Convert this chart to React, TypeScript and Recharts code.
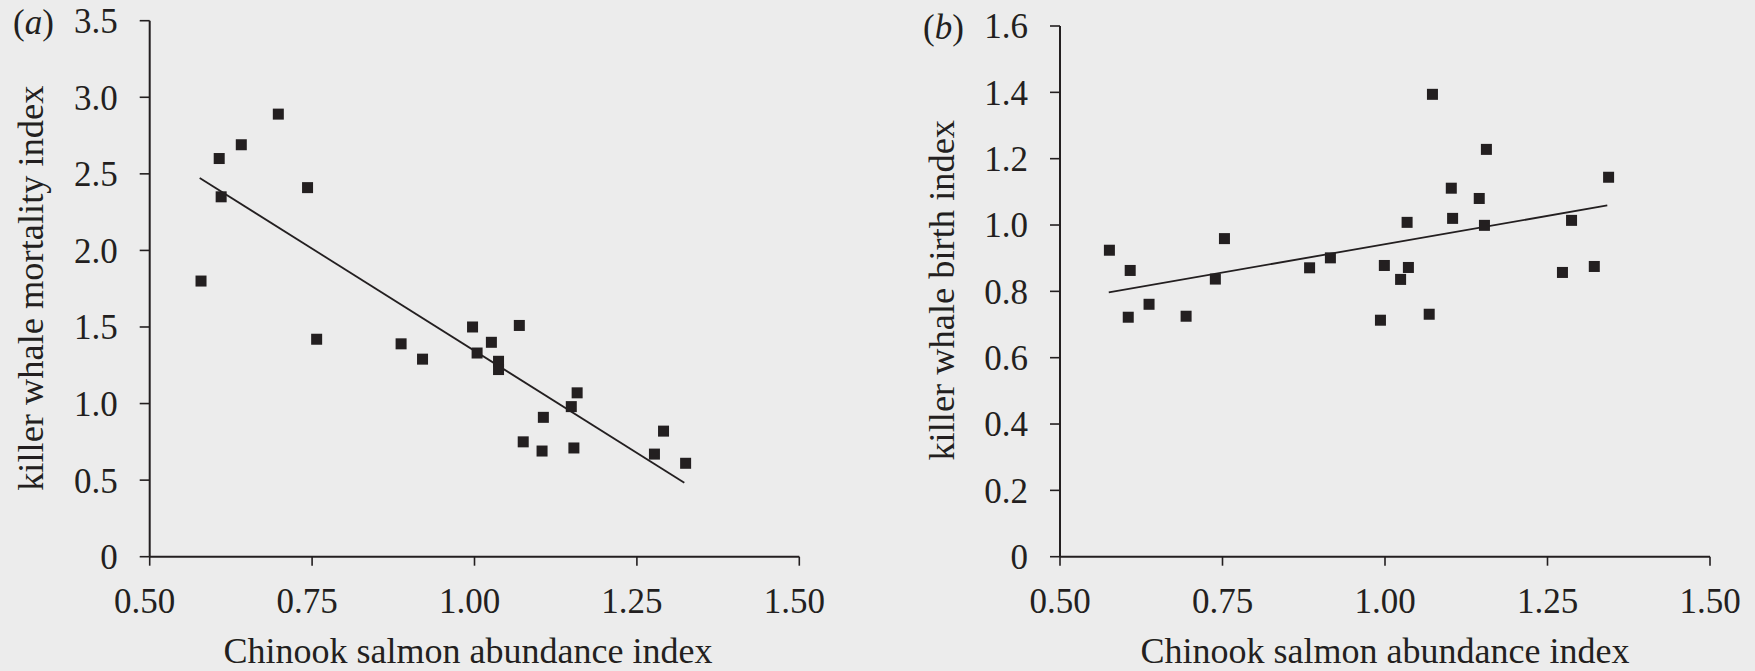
import React from 'react';
import { ScatterChart, Scatter, XAxis, YAxis, ReferenceLine } from 'recharts';

const INK = '#231f20';
const BG = '#ececec';
const FONT = '"Liberation Serif", "Times New Roman", Times, serif';

// shared x axis
const xTicks = [0.5, 0.75, 1.0, 1.25, 1.5];
const xTitle = 'Chinook salmon abundance index';

// panel (a): mortality
const aX = [0.579, 0.607, 0.610, 0.641, 0.698, 0.743, 0.757, 0.887, 0.920, 0.997, 1.069, 1.026, 1.004, 1.037, 1.037, 1.158, 1.149, 1.106, 1.075, 1.104, 1.153, 1.291, 1.277, 1.325];
const aY = [1.80, 2.60, 2.35, 2.69, 2.89, 2.41, 1.42, 1.39, 1.29, 1.50, 1.51, 1.40, 1.33, 1.276, 1.222, 1.07, 0.98, 0.91, 0.75, 0.69, 0.71, 0.82, 0.67, 0.61];
const aTrendX = [0.577, 1.323];
const aTrendY = [2.473, 0.483];
const aYTicks = [0, 0.5, 1.0, 1.5, 2.0, 2.5, 3.0, 3.5];
const aYTitle = 'killer whale mortality index';

// panel (b): birth
const bX = [0.576, 0.608, 0.605, 0.637, 0.694, 0.739, 0.753, 0.884, 0.916, 1.073, 1.156, 1.102, 1.145, 1.344, 1.034, 1.104, 1.153, 1.287, 0.999, 1.036, 1.024, 1.273, 1.322, 0.993, 1.068];
const bY = [0.924, 0.863, 0.722, 0.761, 0.725, 0.837, 0.959, 0.871, 0.901, 1.394, 1.228, 1.111, 1.080, 1.144, 1.008, 1.020, 0.999, 1.014, 0.878, 0.872, 0.836, 0.857, 0.875, 0.713, 0.731];
const bTrendX = [0.575, 1.342];
const bTrendY = [0.797, 1.059];
const bYTicks = [0, 0.2, 0.4, 0.6, 0.8, 1.0, 1.2, 1.4, 1.6];
const bYTitle = 'killer whale birth index';

const aData = aX.map((x, i) => ({ x, y: aY[i] }));
const bData = bX.map((x, i) => ({ x, y: bY[i] }));

const Square = (props: any) => {
  const { cx, cy } = props;
  if (cx == null || cy == null) return <g />;
  return <rect x={cx - 5.5} y={cy - 5.5} width={11} height={11} fill={INK} />;
};

const fmtX = (v: number) => v.toFixed(2);
const fmtY = (v: number) => (v === 0 ? '0' : v.toFixed(1));

type PanelProps = {
  left: number;
  width: number;
  top: number;
  right: number;
  yAxisWidth: number;
  data: { x: number; y: number }[];
  yMax: number;
  yTicks: number[];
  trendX: number[];
  trendY: number[];
  xdx: number;
};

function Panel(p: PanelProps) {
  const H = 671;
  return (
    <div style={{ position: 'absolute', left: p.left, top: 0, width: p.width, height: H }}>
      <ScatterChart
        width={p.width}
        height={H}
        margin={{ top: p.top, right: p.right, bottom: 0, left: 0 }}
      >
        <XAxis
          type="number"
          dataKey="x"
          domain={[0.5, 1.5]}
          ticks={xTicks}
          tickFormatter={fmtX}
          height={114.3}
          tickSize={9}
          tickMargin={22.5}
          axisLine={{ stroke: INK, strokeWidth: 2 }}
          tickLine={{ stroke: INK, strokeWidth: 1.6 }}
          tick={{ fill: INK, fontSize: 35, fontFamily: FONT, dx: p.xdx }}
          interval={0}
          allowDataOverflow
        />
        <YAxis
          type="number"
          dataKey="y"
          domain={[0, p.yMax]}
          ticks={p.yTicks}
          tickFormatter={fmtY}
          width={p.yAxisWidth}
          tickSize={10}
          tickMargin={22}
          axisLine={{ stroke: INK, strokeWidth: 2 }}
          tickLine={{ stroke: INK, strokeWidth: 1.6 }}
          tick={{ fill: INK, fontSize: 35, fontFamily: FONT }}
          interval={0}
          allowDataOverflow
        />
        <ReferenceLine
          segment={[
            { x: p.trendX[0], y: p.trendY[0] },
            { x: p.trendX[1], y: p.trendY[1] },
          ]}
          stroke={INK}
          strokeWidth={1.8}
          ifOverflow="visible"
        />
        <Scatter data={p.data} shape={Square} isAnimationActive={false} fill={INK} />
      </ScatterChart>
    </div>
  );
}

export default function App() {
  const textStyle = { fontFamily: FONT, fill: INK } as const;
  return (
    <div
      style={{
        position: 'fixed',
        left: 0,
        top: 0,
        width: 1755,
        height: 671,
        background: BG,
        overflow: 'hidden',
      }}
    >
      <Panel
        left={0}
        width={877}
        top={20.7}
        right={77.7}
        yAxisWidth={149.7}
        data={aData}
        yMax={3.5}
        yTicks={aYTicks}
        trendX={aTrendX}
        trendY={aTrendY}
        xdx={-5}
      />
      <Panel
        left={877}
        width={878}
        top={26}
        right={45}
        yAxisWidth={183}
        data={bData}
        yMax={1.6}
        yTicks={bYTicks}
        trendX={bTrendX}
        trendY={bTrendY}
        xdx={0}
      />
      <svg
        width={1755}
        height={671}
        style={{ position: 'absolute', left: 0, top: 0, pointerEvents: 'none' }}
      >
        <text x={13} y={34} fontSize={35} style={textStyle}>
          (<tspan fontStyle="italic">a</tspan>)
        </text>
        <text x={923} y={39} fontSize={35} style={textStyle}>
          (<tspan fontStyle="italic">b</tspan>)
        </text>
        <text x={468} y={663} fontSize={36} textAnchor="middle" style={textStyle}>
          {xTitle}
        </text>
        <text x={1385} y={663} fontSize={36} textAnchor="middle" style={textStyle}>
          {xTitle}
        </text>
        <text
          x={43}
          y={288.2}
          fontSize={36.4}
          textAnchor="middle"
          transform="rotate(-90 43 288.2)"
          style={textStyle}
        >
          {aYTitle}
        </text>
        <text
          x={954}
          y={290.3}
          fontSize={36.4}
          textAnchor="middle"
          transform="rotate(-90 954 290.3)"
          style={textStyle}
        >
          {bYTitle}
        </text>
      </svg>
    </div>
  );
}
